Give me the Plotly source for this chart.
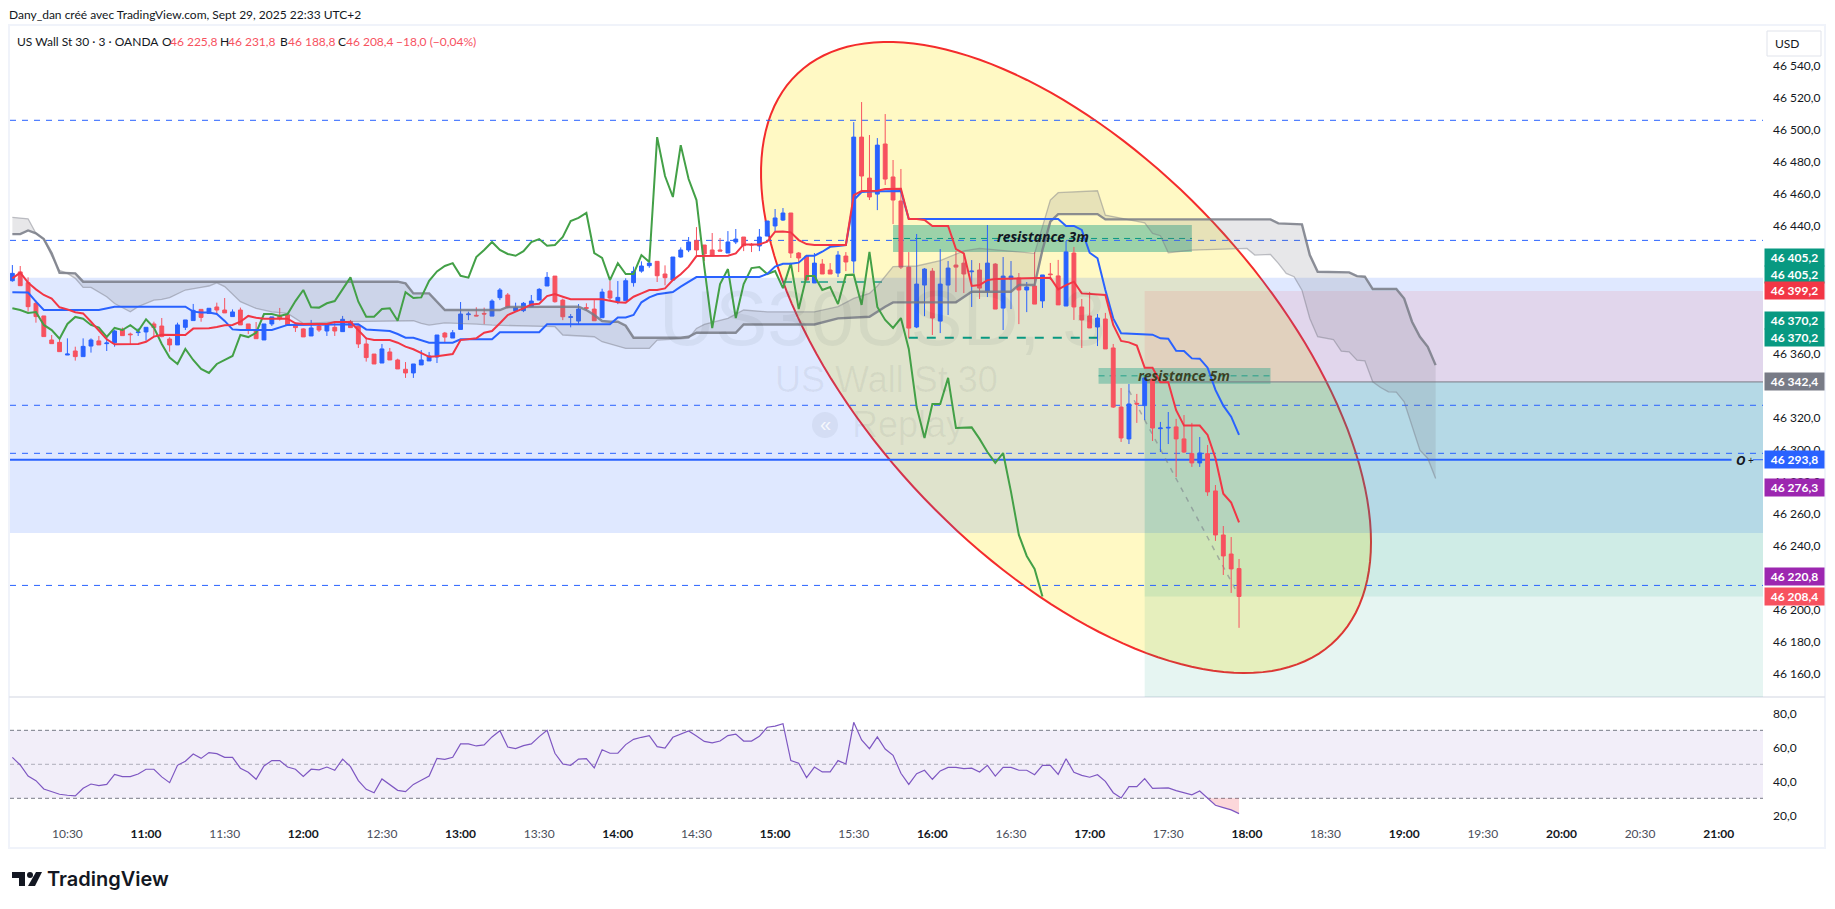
import numpy as np
import pandas as pd
import plotly.graph_objects as go

W, H = 1835, 909
BLUE = "#2962ff"
RED = "#f7525f"
TEAL = "#089981"
GRAY = "#787b86"

# 3 minute bars, bar number n is times[n - 1]
times = pd.date_range("2025-09-29 10:09", periods=182, freq="3min").strftime("%Y-%m-%d %H:%M").tolist()
x_start = "2025-09-29 10:08:06"
x_end = "2025-09-29 21:16:54"
x_line_end = "2025-09-29 21:04:54"

opens = [46405.6,46411.1,46404.4,46391.5,46383.6,46368.6,46367.1,46359.2,46361.7,46358.2,46364.8,46368.0,46366.3,46366.9,46374.8,46372.3,46373.2,46373.6,46378.6,46377.3,
46369.2,46365.5,46376.5,46380.7,46387.7,46385.2,46389.2,46387.3,46383.2,46387.3,46378.6,46374.8,46368.6,46378.6,46384.0,46384.2,46378.0,46375.5,46371.1,46377.3,
46374.2,46376.5,46373.8,46380.2,46377.3,46366.1,46359.8,46354.2,46361.1,46356.1,46350.3,46348.0,46353.0,46355.5,46358.0,46372.9,46369.8,46375.2,46384.4,46384.0,
46385.2,46383.5,46395.0,46396.7,46386.7,46386.9,46389.4,46393.5,46402.3,46408.5,46393.5,46382.7,46380.4,46388.8,46387.9,46382.5,46399.2,46392.7,46393.1,46404.4,
46411.6,46415.0,46417.7,46409.8,46406.0,46420.4,46424.8,46430.6,46427.9,46424.8,46424.8,46422.9,46429.8,46432.9,46428.3,46427.3,46433.5,46439.8,46443.5,46447.9,
46422.9,46421.0,46404.2,46416.0,46412.3,46410.4,46421.0,46417.9,46495.3,46469.7,46459.7,46491.0,46470.4,46455.4,46414.1,46376.7,46402.9,46411.6,46380.4,46402.9,
46415.4,46416.6,46411.2,46412.3,46399.2,46416.0,46388.5,46406.7,46407.3,46399.8,46402.3,46393.0,46409.8,46408.6,46389.8,46422.9,46389.2,46383.6,46376.7,46381.7,
46363.6,46326.7,46306.8,46329.0,46327.6,46344.2,46313.2,46313.6,46314.3,46306.8,46297.6,46291.8,46297.6,46274.3,46246.8,46234.9,46225.8]
highs = [46415.4,46414.8,46407.7,46393.2,46383.6,46371.7,46368.6,46369.6,46364.4,46369.6,46369.6,46371.1,46370.3,46374.8,46376.3,46373.2,46375.9,46376.5,46380.0,46382.3,
46370.3,46379.4,46381.1,46391.1,46387.7,46388.4,46391.9,46394.8,46387.7,46388.8,46378.6,46379.8,46378.6,46383.0,46388.6,46384.2,46378.6,46375.9,46381.1,46378.2,
46379.0,46380.0,46383.6,46381.1,46377.8,46370.3,46359.8,46366.1,46363.6,46356.9,46354.8,46353.6,46362.3,46361.1,46371.7,46373.6,46374.8,46392.3,46386.3,46389.0,
46388.8,46394.0,46401.0,46397.9,46391.9,46392.3,46396.7,46401.0,46411.0,46408.5,46394.4,46384.8,46391.0,46391.5,46393.5,46400.6,46405.6,46405.4,46407.1,46414.4,
46417.7,46418.9,46417.7,46415.2,46420.4,46426.4,46432.9,46439.1,46427.9,46435.4,46432.3,46436.6,46437.9,46432.9,46429.1,46437.9,46442.9,46450.4,46451.0,46447.9,
46423.5,46421.0,46422.9,46419.1,46416.6,46424.1,46423.5,46504.7,46517.2,46496.6,46494.7,46509.7,46481.0,46475.4,46423.5,46434.8,46413.5,46413.5,46425.4,46417.9,
46424.1,46422.9,46418.5,46416.6,46440.4,46416.6,46420.4,46417.9,46410.4,46404.8,46423.5,46409.2,46416.7,46418.6,46430.4,46426.7,46394.2,46398.6,46384.8,46385.5,
46366.1,46338.6,46341.1,46334.9,46344.9,46344.2,46317.4,46323.6,46319.3,46321.7,46316.8,46308.0,46303.0,46278.0,46252.4,46245.5,46231.8]
lows = [46405.0,46402.5,46386.3,46379.4,46370.7,46366.3,46361.3,46359.2,46355.7,46358.2,46360.7,46365.5,46361.7,46364.4,46371.3,46365.9,46371.1,46368.2,46370.7,46370.3,
46361.3,46365.5,46374.8,46380.7,46380.0,46385.2,46384.2,46385.5,46383.2,46378.0,46372.3,46369.4,46368.6,46377.3,46380.7,46378.0,46373.6,46370.5,46371.1,46373.6,
46371.1,46371.1,46373.8,46376.3,46363.6,46355.1,46353.6,46354.2,46356.1,46350.5,46344.9,46344.9,46353.0,46355.5,46354.2,46366.7,46369.8,46375.2,46381.0,46383.5,
46378.5,46383.5,46393.5,46388.3,46386.3,46386.0,46389.4,46393.5,46402.3,46391.9,46381.0,46376.5,46378.5,46386.9,46380.6,46382.5,46393.1,46391.0,46393.1,46401.9,
46410.6,46413.7,46404.8,46402.7,46406.0,46420.0,46423.5,46421.6,46417.9,46421.2,46424.1,46422.9,46428.5,46424.1,46423.5,46424.1,46433.5,46436.6,46442.9,46419.8,
46411.0,46406.0,46404.2,46409.8,46409.8,46407.9,46411.6,46410.2,46462.2,46456.0,46449.7,46465.4,46441.0,46412.9,46369.8,46376.0,46383.5,46371.7,46372.9,46384.2,
46398.5,46397.9,46389.2,46394.2,46395.4,46387.9,46374.8,46387.9,46378.5,46386.0,46391.0,46388.6,46406.1,46390.5,46389.8,46381.1,46363.6,46376.1,46364.8,46363.0,
46326.1,46304.9,46303.6,46316.8,46318.6,46305.5,46298.6,46303.6,46283.0,46298.0,46289.3,46289.3,46271.2,46243.1,46221.8,46210.6,46188.8]
closes = [46410.2,46402.5,46389.4,46383.2,46370.7,46366.3,46361.3,46359.8,46358.2,46364.6,46368.6,46365.5,46366.7,46374.2,46371.3,46371.9,46373.6,46376.5,46376.3,46370.7,
46365.5,46378.0,46381.1,46387.1,46382.7,46388.4,46387.3,46385.5,46386.1,46378.0,46374.8,46369.4,46378.6,46383.0,46381.9,46378.0,46376.3,46370.5,46376.1,46374.8,
46377.8,46374.2,46381.5,46376.3,46366.1,46357.6,46353.6,46363.0,46356.1,46350.5,46348.0,46353.6,46356.1,46358.6,46371.7,46370.4,46373.1,46384.8,46384.8,46383.6,
46384.8,46392.9,46399.8,46389.0,46388.8,46391.5,46392.9,46400.2,46407.7,46392.5,46383.1,46383.1,46387.9,46388.4,46380.6,46398.5,46394.8,46395.2,46405.6,46411.4,
46414.8,46416.6,46408.7,46407.5,46420.4,46424.8,46429.8,46424.8,46422.3,46421.2,46424.1,46429.8,46431.6,46427.5,46427.9,46432.9,46442.9,46444.8,46447.9,46422.9,
46419.8,46406.0,46416.6,46409.8,46409.8,46421.6,46417.3,46495.3,46471.0,46457.9,46490.3,46469.1,46456.0,46414.1,46376.0,46403.5,46412.9,46382.3,46403.5,46413.5,
46414.1,46409.8,46411.6,46401.0,46416.6,46387.9,46408.5,46408.5,46399.8,46401.7,46391.0,46409.2,46409.4,46390.5,46423.6,46389.2,46381.1,46376.1,46382.3,46363.0,
46326.7,46307.4,46328.6,46328.6,46344.9,46313.6,46313.6,46314.0,46306.8,46298.6,46291.8,46298.0,46273.7,46246.8,46233.7,46225.6,46208.4]

kijun_bars = [1,3,4,5,12,13,14,23,24,25,26,27,28,29,30,34,35,36,45,46,47,49,50,51,52,53,54,57,58,62,63,68,69,77,78,79,80,81,82,83,84,85,86,87,88,96,97,98,99,100,101,102,103,104,105,106,107,108,109,110,114,115,134,135,136,137,138,139,140,141,142,146,147,148,149,150,151,152,153,154,155,156,157]
kijun_vals = [46398.4,46398.2,46392.5,46387.3,46387.3,46388.4,46389.4,46389.4,46386.3,46385.7,46385.7,46384.8,46380.5,46375.2,46374.8,46374.8,46376.5,46378.0,46378.4,46375.2,46374.8,46374.2,46372.3,46370.0,46370.0,46368.6,46366.9,46366.9,46369.0,46369.0,46373.4,46373.4,46378.4,46378.4,46382.7,46382.7,46384.2,46392.1,46395.2,46397.1,46397.7,46398.5,46401.9,46404.8,46407.9,46407.9,46409.8,46414.4,46416.2,46416.2,46416.9,46421.2,46421.2,46423.7,46426.8,46427.3,46427.9,46456.0,46461.0,46461.4,46461.6,46444.1,46444.1,46439.8,46439.8,46437.3,46423.1,46419.6,46399.8,46382.1,46372.8,46371.9,46369.6,46369.4,46361.9,46361.7,46357.1,46356.9,46351.3,46337.4,46327.6,46320.7,46309.3]

tenkan_bars = [1,2,3,4,5,6,7,8,9,10,11,12,13,14,15,17,18,19,20,21,22,23,24,25,26,27,28,29,30,31,32,33,36,37,38,41,42,44,45,46,47,49,50,51,52,53,54,55,56,57,58,59,60,61,62,63,64,65,66,67,68,69,70,71,72,76,77,78,79,80,81,82,83,84,85,86,87,88,92,93,94,96,97,98,99,100,101,102,103,107,108,109,111,112,114,115,116,117,118,120,121,122,123,124,125,126,133,134,135,136,137,139,140,141,142,143,144,145,146,147,148,149,150,152,153,154,155,156,157]
tenkan_vals = [46407.1,46410.6,46404.4,46400.2,46396.7,46394.4,46389.0,46387.7,46385.9,46385.2,46380.0,46374.8,46369.0,46365.9,46366.1,46366.1,46367.5,46370.7,46371.9,46371.7,46371.5,46371.7,46375.7,46375.7,46375.9,46376.7,46377.8,46378.0,46380.0,46383.6,46382.5,46381.9,46381.9,46379.0,46378.6,46378.6,46379.8,46379.8,46374.8,46369.6,46368.6,46368.6,46366.9,46364.4,46362.8,46360.3,46358.1,46358.5,46359.2,46359.8,46368.5,46368.9,46369.6,46373.1,46374.2,46379.0,46384.2,46386.3,46388.3,46390.8,46391.2,46396.0,46397.3,46395.6,46394.0,46394.0,46393.1,46392.1,46391.9,46395.6,46397.7,46399.8,46399.8,46400.8,46406.0,46409.6,46414.4,46421.0,46421.2,46422.7,46428.3,46428.3,46430.0,46436.2,46436.4,46435.8,46431.0,46428.5,46427.9,46427.9,46459.1,46461.6,46461.8,46462.9,46463.1,46444.1,46444.1,46443.5,46439.8,46439.8,46425.4,46422.7,46402.3,46402.9,46406.0,46406.7,46407.5,46400.2,46402.9,46405.0,46397.7,46397.3,46396.7,46378.0,46368.0,46367.1,46365.1,46351.3,46351.3,46342.2,46342.2,46324.7,46315.1,46315.1,46309.3,46294.7,46272.6,46267.0,46254.7]

span_b_bars = [1,2,3,4,5,6,7,9,10,50,51,52,54,56,63,64,73,74,75,76,77,78,79,80,86,87,88,93,94,103,106,110,112,113,121,122,123,128,129,131,132,133,134,139,140,161,162,165,166,167,171,172,173,174,177,178,179,180,181,182]
span_b_vals = [46434.7,46434.7,46437.0,46435.2,46431.6,46422.7,46410.6,46410.2,46405.0,46405.0,46403.9,46397.7,46397.7,46387.3,46387.3,46389.2,46389.4,46387.3,46384.2,46380.4,46380.0,46380.0,46377.5,46370.0,46370.0,46370.6,46373.1,46373.1,46378.3,46378.3,46382.1,46383.1,46389.4,46392.1,46392.1,46395.6,46398.7,46398.7,46402.9,46402.9,46424.8,46442.5,46447.2,46447.2,46443.9,46443.9,46441.4,46440.8,46421.6,46411.2,46410.8,46408.5,46408.1,46400.4,46400.4,46394.5,46380.0,46370.6,46364.3,46352.9]

span_a_bars = [1,3,4,5,6,7,8,9,10,11,13,14,16,17,19,20,21,23,25,26,27,28,30,32,34,36,38,43,52,53,54,56,60,62,70,71,75,76,79,82,83,87,88,89,92,94,97,103,106,108,110,111,113,116,119,122,124,131,133,134,139,140,145,146,147,148,151,158,159,161,162,163,164,165,166,167,169,170,171,172,173,174,175,176,177,178,180,181,182]
span_a_vals = [46445.2,46444.3,46435.2,46431.6,46421.0,46412.0,46410.2,46407.1,46401.4,46401.4,46395.6,46391.4,46386.2,46389.4,46393.5,46393.9,46395.0,46399.8,46401.4,46402.3,46404.3,46401.9,46392.5,46388.3,46386.2,46385.2,46378.9,46380.0,46380.6,46378.9,46377.9,46379.3,46378.5,46377.9,46376.9,46371.7,46370.6,46367.5,46363.3,46363.3,46368.5,46369.6,46375.8,46378.3,46382.1,46387.3,46386.2,46386.2,46389.4,46394.6,46397.7,46402.3,46414.4,46414.8,46418.1,46424.3,46425.8,46422.7,46456.0,46460.6,46461.8,46446.6,46441.8,46435.1,46433.7,46423.1,46424.7,46425.8,46421.6,46422.0,46416.4,46410.2,46408.1,46399.7,46382.0,46370.6,46368.9,46361.6,46361.2,46356.0,46355.6,46342.5,46338.9,46336.2,46336.0,46330.0,46299.8,46294.6,46282.1]

rsi_vals = [54.1,49.6,43.1,40.4,35.5,33.9,32.4,31.8,31.4,35.9,38.4,37.5,38.2,44.1,42.8,42.8,44.3,47.1,47.1,42.6,39.2,49.4,51.8,56.1,53.5,56.9,56.3,54.1,54.1,47.7,
45.3,41.2,49.0,52.2,52.2,48.4,47.1,42.8,47.1,46.7,48.4,46.5,53.1,48.6,40.4,35.3,33.3,41.4,37.9,34.7,33.9,38.2,40.6,43.1,53.5,52.9,54.1,62.0,62.0,60.8,
61.4,66.1,69.8,60.2,59.2,61.0,62.0,66.3,70.0,56.5,50.2,49.4,53.1,53.3,47.9,58.6,56.5,56.5,61.6,64.7,65.9,66.9,60.4,59.6,65.9,67.6,69.6,66.7,63.5,62.6,
63.7,66.9,67.8,63.7,63.7,66.5,71.8,72.5,73.9,52.2,50.6,42.2,48.4,45.5,45.5,52.2,50.2,74.7,64.3,59.2,66.1,59.0,55.3,44.7,38.2,44.5,46.5,41.2,46.1,48.2,
48.2,47.5,47.7,45.5,49.4,43.1,48.2,48.2,46.5,46.5,43.9,49.4,49.4,44.1,53.3,45.3,43.5,42.4,43.9,40.0,33.3,30.2,36.9,36.9,41.6,35.9,35.9,36.1,34.5,33.2,
32.0,34.3,30.0,25.9,24.5,23.2,21.0]

# 46 420, 46 400, 46 380, 46 340 and 46 220 sit behind the price labels in the reference
price_ticks = [46160, 46180, 46200, 46240, 46260, 46280, 46300, 46320, 46360, 46440, 46460, 46480, 46500, 46520, 46540]
price_ticktext = [f"46\u202f{v - 46000},0" for v in price_ticks]
rsi_ticks = [20, 40, 60, 80]
rsi_ticktext = ["20,0", "40,0", "60,0", "80,0"]
time_ticks = pd.date_range("2025-09-29 10:30", "2025-09-29 21:00", freq="30min")

dashed_levels = [46505.8, 46430.8, 46327.8, 46297.8, 46215.3]
position_level = 46293.8
zone_top, zone_bottom = 46407.5, 46248.0
entry_price, stop_price, target_price = 46342.4, 46399.2, 46208.3

label_prices = [46405.2, 46405.2, 46399.2, 46370.2, 46370.2, 46342.4, 46293.8, 46276.3, 46220.8, 46208.4]
label_colors = ["#089981", "#089981", "#f23645", "#089981", "#089981", "#787b86", "#2962ff", "#9c27b0", "#9c27b0", "#f7525f"]
label_shifts = [24, 7, 0, 17, 0, 0, 0, 0, 0, 0]


def px(x):
    return x / W


def py(y):
    return 1 - y / H


def bar_x(bars):
    return [times[n - 1] for n in bars]


# pane layout in pixels
left, right = 10, 1763
main_top, main_bottom = 26, 697
rsi_bottom = 825
y_range = [46145.6, 46564.7]
rsi_range = [14.3, 89.6]

fig = go.Figure()

# cloud first so that it sits under the other lines
fig.add_trace(go.Scatter(x=bar_x(span_a_bars), y=span_a_vals, mode="lines",
                         line=dict(color="rgba(120,123,134,0.45)", width=1.3)))
fig.add_trace(go.Scatter(x=bar_x(span_b_bars), y=span_b_vals, mode="lines", fill="tonexty",
                         fillcolor="rgba(120,123,134,0.18)",
                         line=dict(color="rgba(120,123,134,0.85)", width=2.4)))
# lagging span is the close moved 25 bars back
fig.add_trace(go.Scatter(x=times[:132], y=closes[25:], mode="lines", line=dict(color="#43a047", width=2)))
fig.add_trace(go.Scatter(x=bar_x(kijun_bars), y=kijun_vals, mode="lines", line=dict(color=BLUE, width=2)))
fig.add_trace(go.Candlestick(x=times[:157], open=opens, high=highs, low=lows, close=closes,
                             increasing=dict(line=dict(color=BLUE, width=1), fillcolor=BLUE),
                             decreasing=dict(line=dict(color=RED, width=1), fillcolor=RED),
                             whiskerwidth=0))
fig.add_trace(go.Scatter(x=bar_x(tenkan_bars), y=tenkan_vals, mode="lines", line=dict(color="#f23645", width=2)))

# rsi pane
fig.add_trace(go.Scatter(x=times[152:157], y=[30] * 5, mode="lines", line=dict(width=0), xaxis="x2", yaxis="y2"))
fig.add_trace(go.Scatter(x=times[152:157], y=rsi_vals[152:], mode="lines", line=dict(width=0), fill="tonexty",
                         fillcolor="rgba(242,54,69,0.2)", xaxis="x2", yaxis="y2"))
fig.add_trace(go.Scatter(x=times[:157], y=rsi_vals, mode="lines", line=dict(color="#7e57c2", width=1.2),
                         xaxis="x2", yaxis="y2"))

shapes = []


def rect(x0, x1, y0, y1, color):
    shapes.append(dict(type="rect", xref="x", yref="y", x0=x0, x1=x1, y0=y0, y1=y1,
                       fillcolor=color, line_width=0, layer="below"))


def hline(x0, x1, y, color, width=1, dash="solid"):
    shapes.append(dict(type="line", xref="x", yref="y", x0=x0, x1=x1, y0=y, y1=y,
                       line=dict(color=color, width=width, dash=dash), layer="below"))


rect(x_start, x_end, zone_bottom, zone_top, "rgba(41,98,255,0.15)")
rect(times[144], x_end, y_range[0], entry_price, "rgba(8,153,129,0.1)")
rect(times[144], x_end, target_price, entry_price, "rgba(8,153,129,0.1)")
rect(times[144], x_end, entry_price, stop_price, "rgba(242,54,69,0.1)")

# big ellipse, built in pixels from its centre and extents
t = np.linspace(0, 2 * np.pi, 160)
ex = 1066 + 305 * np.cos(t)
ey = 357.5 + 184.5 * np.cos(t) + 256 * np.sin(t)
path = "M " + " L ".join(f"{px(a):.5f},{py(b):.5f}" for a, b in zip(ex, ey)) + " Z"
shapes.append(dict(type="path", xref="paper", yref="paper", path=path, fillcolor="rgba(255,235,59,0.3)",
                   line=dict(color="#f42c2c", width=2), layer="below"))

rect(times[112], times[150], 46423.5, 46440.4, "rgba(8,153,129,0.4)")
rect("2025-09-29 17:03:24", "2025-09-29 18:09", 46341.3, 46351.1, "rgba(8,153,129,0.35)")
hline(times[112], times[150], 46432.0, TEAL, 1, "6px,5px")
hline("2025-09-29 17:03:24", "2025-09-29 18:09", 46346.2, "rgba(8,153,129,0.8)", 1, "6px,5px")

for lv in dashed_levels:
    hline(x_start, x_end, lv, BLUE, 1, "6px,6px")
hline(x_start, x_line_end, position_level, BLUE, 2)
hline("2025-09-29 21:13", x_end, position_level, BLUE, 1)
hline(times[144], x_end, entry_price, GRAY, 1)
hline(times[114], times[138], 46370.0, TEAL, 2, "9px,9px")
hline(times[98], times[111], 46404.8, "rgba(8,153,129,0.7)", 2, "9px,9px")
shapes.append(dict(type="line", xref="x", yref="y", x0="2025-09-29 17:15", x1=times[156], y0=46337, y1=46208.6,
                   line=dict(color="rgba(120,123,134,0.55)", width=1.5, dash="5px,6px"), layer="below"))

# rsi band and levels
shapes.append(dict(type="rect", xref="x2", yref="y2", x0=x_start, x1=x_end, y0=30, y1=70,
                   fillcolor="rgba(126,87,194,0.1)", line_width=0, layer="below"))
for lv, col in [(70, GRAY), (50, "rgba(120,123,134,0.55)"), (30, GRAY)]:
    shapes.append(dict(type="line", xref="x2", yref="y2", x0=x_start, x1=x_end, y0=lv, y1=lv,
                       line=dict(color=col, width=1, dash="4px,3px"), layer="below"))

# frame, pane separator, usd box, replay circle and logo are page furniture
shapes.append(dict(type="rect", xref="paper", yref="paper", x0=px(9), x1=px(1825), y0=py(848), y1=py(25),
                   line=dict(color="#f0f3fa", width=2), layer="below"))
shapes.append(dict(type="line", xref="paper", yref="paper", x0=px(9), x1=px(1825), y0=py(697), y1=py(697),
                   line=dict(color="#e0e3eb", width=1.5), layer="below"))
shapes.append(dict(type="rect", xref="paper", yref="paper", x0=px(1767), x1=px(1821), y0=py(56), y1=py(31),
                   line=dict(color="#e0e3eb", width=1), fillcolor="white"))
shapes.append(dict(type="circle", xref="paper", yref="paper", x0=px(812), x1=px(838), y0=py(438), y1=py(412),
                   fillcolor="rgba(42,46,57,0.06)", line_width=0, layer="below"))
logo_parts = [[(12, 872), (25, 872), (25, 886), (19, 886), (19, 878), (12, 878)],
              [(36, 872), (42, 872), (35, 886), (28, 886)]]
for part in logo_parts:
    d = "M " + " L ".join(f"{px(a):.5f},{py(b):.5f}" for a, b in part) + " Z"
    shapes.append(dict(type="path", xref="paper", yref="paper", path=d, fillcolor="#131722", line_width=0))
shapes.append(dict(type="circle", xref="paper", yref="paper", x0=px(27), x1=px(33), y0=py(878), y1=py(872),
                   fillcolor="#131722", line_width=0))

annotations = []


def text(x, y, s, size=12, color="#131722", anchor="left", family="Lato", **kw):
    # annotations carry about 3px of padding on the anchored side
    if anchor == "left":
        x -= 3
    annotations.append(dict(xref="paper", yref="paper", x=px(x), y=py(y), text=s, showarrow=False,
                            xanchor=anchor, yanchor="middle", font=dict(size=size, color=color, family=family), **kw))


text(10, 15, "Dany_dan créé avec TradingView.com, Sept 29, 2025 22:33 UTC+2", 12)
text(18, 41, "US Wall St 30 · 3 · OANDA", 12)
for xpos, letter, value in [(163, "O", "46\u202f225,8"), (221, "H", "46\u202f231,8"),
                            (281, "B", "46\u202f188,8"), (339, "C", "46\u202f208,4")]:
    text(xpos, 41, letter, 12)
    text(xpos + 8, 41, value, 12, RED)
text(397, 41, "−18,0 (−0,04%)", 12, RED)
text(1776, 44, "USD", 12)

text(882, 318, "US30USD, 3", 78, "rgba(42,46,57,0.06)", "center", "Liberation Sans")
text(886, 379, "US Wall St 30", 36, "rgba(42,46,57,0.06)", "center", "Liberation Sans")
text(853, 425, "Replay", 36, "rgba(42,46,57,0.06)", "left", "Liberation Sans")
text(825, 424, "«", 20, "rgba(255,255,255,0.8)", "center", "Liberation Sans")

text(1043, 237, "<b><i>resistance 3m</i></b>", 14, "#131722", "center", "Noto Sans")
text(1184, 375, "<b><i>resistance 5m</i></b>", 14, "rgba(40,30,0,0.8)", "center", "Noto Sans")
text(1741, 460, "<b><i>O</i></b>", 13, "#131722", "center", "Noto Sans")
text(1751, 460, "+", 10, "#131722", "center", "Noto Sans")

text(48, 879, "TradingView", 20, "#131722", "left", "Inter", )
annotations[-1]["font"]["weight"] = 600

for price, col, shift in zip(label_prices, label_colors, label_shifts):
    annotations.append(dict(xref="paper", yref="y", x=px(1764), y=price, yshift=shift, xanchor="left", yanchor="middle",
                            text=f"<b>46\u202f{price - 46000:.1f}</b>".replace(".", ","), showarrow=False, width=57, height=15,
                            align="center", bgcolor=col, font=dict(size=12, color="white", family="Lato")))

time_labels = [f"<b>{d:%H:%M}</b>" if d.minute == 0 else f"<span style='color:#4a4e5a'>{d:%H:%M}</span>" for d in time_ticks]

fig.update_layout(
    width=W, height=H, autosize=False, margin=dict(l=0, r=0, t=0, b=0),
    paper_bgcolor="white", plot_bgcolor="rgba(0,0,0,0)", showlegend=False, hovermode=False,
    font=dict(family="Lato", size=12, color="#131722"),
    shapes=shapes, annotations=annotations,
    xaxis=dict(domain=[px(left), px(right)], range=[x_start, x_end], type="date", anchor="y",
               showticklabels=False, showgrid=False, zeroline=False, rangeslider=dict(visible=False)),
    xaxis2=dict(domain=[px(left), px(right)], range=[x_start, x_end], type="date", anchor="y2",
                tickmode="array", tickvals=[d.strftime("%Y-%m-%d %H:%M") for d in time_ticks], ticktext=time_labels,
                showgrid=False, zeroline=False, ticks="", ticklabelstandoff=0, tickfont=dict(size=12, color="#131722")),
    yaxis=dict(domain=[py(main_bottom), py(main_top)], range=y_range, side="right", anchor="x",
               tickmode="array", tickvals=price_ticks, ticktext=price_ticktext,
               showgrid=False, zeroline=False, ticks="", ticklabelstandoff=9, tickfont=dict(size=12, color="#131722")),
    yaxis2=dict(domain=[py(rsi_bottom), py(main_bottom)], range=rsi_range, side="right", anchor="x2",
                tickmode="array", tickvals=rsi_ticks, ticktext=rsi_ticktext,
                showgrid=False, zeroline=False, ticks="", ticklabelstandoff=9, tickfont=dict(size=12, color="#131722")),
)

fig.write_html("out.html", config={"displayModeBar": False}, post_script="document.body.style.margin='0';")
